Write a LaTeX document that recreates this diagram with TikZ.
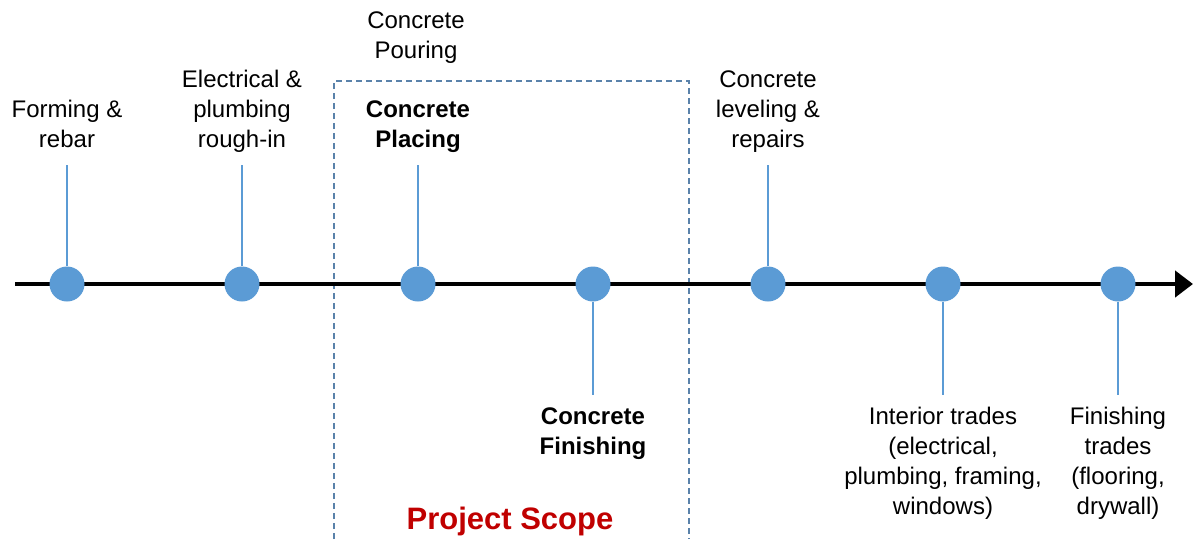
\documentclass[tikz,border=0pt]{standalone}
\usepackage{fontspec}
\setmainfont{Liberation Sans}
\usetikzlibrary{positioning, arrows.meta}

\definecolor{dotblue}{HTML}{5B9BD5}
\definecolor{boxblue}{HTML}{5A82AA}
\definecolor{scopered}{HTML}{C00000}

\tikzset{
  dot/.style={circle,fill=dotblue,inner sep=0pt,minimum size=35pt},
  stem/.style={draw=dotblue,line width=1.4pt,shorten >=8pt},
  lab/.style={align=center,inner sep=0pt,font=\fontsize{24}{30}\selectfont},
  scopebox/.style={draw=boxblue,line width=1.2pt,dash pattern=on 6pt off 4pt}
}

\begin{document}
\begin{tikzpicture}[x=1pt,y=-1pt]
\useasboundingbox (0,0) rectangle (1193,539);

% scope frame, open at the bottom
\draw[scopebox] (334,539) |- (689,81) -- (689,539);

% time axis
\coordinate (start) at (15,284);
\coordinate (end) at (1193,284);
\draw[line width=4.5pt,-{Triangle[length=18pt,width=26pt]}] (start) -- (end);

% milestones
\node[dot] (d1) at (67,284) {};
\node[dot] (d2) at (242,284) {};
\node[dot] (d3) at (418,284) {};
\node[dot] (d4) at (593,284) {};
\node[dot] (d5) at (768,284) {};
\node[dot] (d6) at (943,284) {};
\node[dot] (d7) at (1118,284) {};

% labels above the axis
\node[lab,anchor=south] (l1) at (67,157) {Forming \&\\rebar\strut};
\node[lab,anchor=south] (l2) at (242,157) {Electrical \&\\plumbing\\rough-in\strut};
\node[lab,anchor=south] (l3) at (418,157) {\bfseries Concrete\\\bfseries Placing\strut};
\node[lab,anchor=south] (l5) at (768,157) {Concrete\\leveling \&\\repairs\strut};
\draw[stem] (d1) -- (l1);
\draw[stem] (d2) -- (l2);
\draw[stem] (d3) -- (l3);
\draw[stem] (d5) -- (l5);

% labels below the axis
\node[lab,anchor=north] (l4) at (593,403) {\strut\bfseries Concrete\\\bfseries Finishing};
\node[lab,anchor=north] (l6) at (943,403) {\strut Interior trades\\(electrical,\\plumbing, framing,\\windows)};
\node[lab,anchor=north] (l7) at (1118,403) {\strut Finishing\\trades\\(flooring,\\drywall)};
\draw[stem] (d4) -- (l4);
\draw[stem] (d6) -- (l6);
\draw[stem] (d7) -- (l7);

% pouring covers placing and finishing
\node[lab,anchor=south] (pour) at (416,68) {Concrete\\Pouring\strut};
\node[anchor=base,inner sep=0pt,text=scopered,font=\fontsize{31}{36}\selectfont\bfseries] (scope) at (510,529) {Project Scope};

\end{tikzpicture}
\end{document}
